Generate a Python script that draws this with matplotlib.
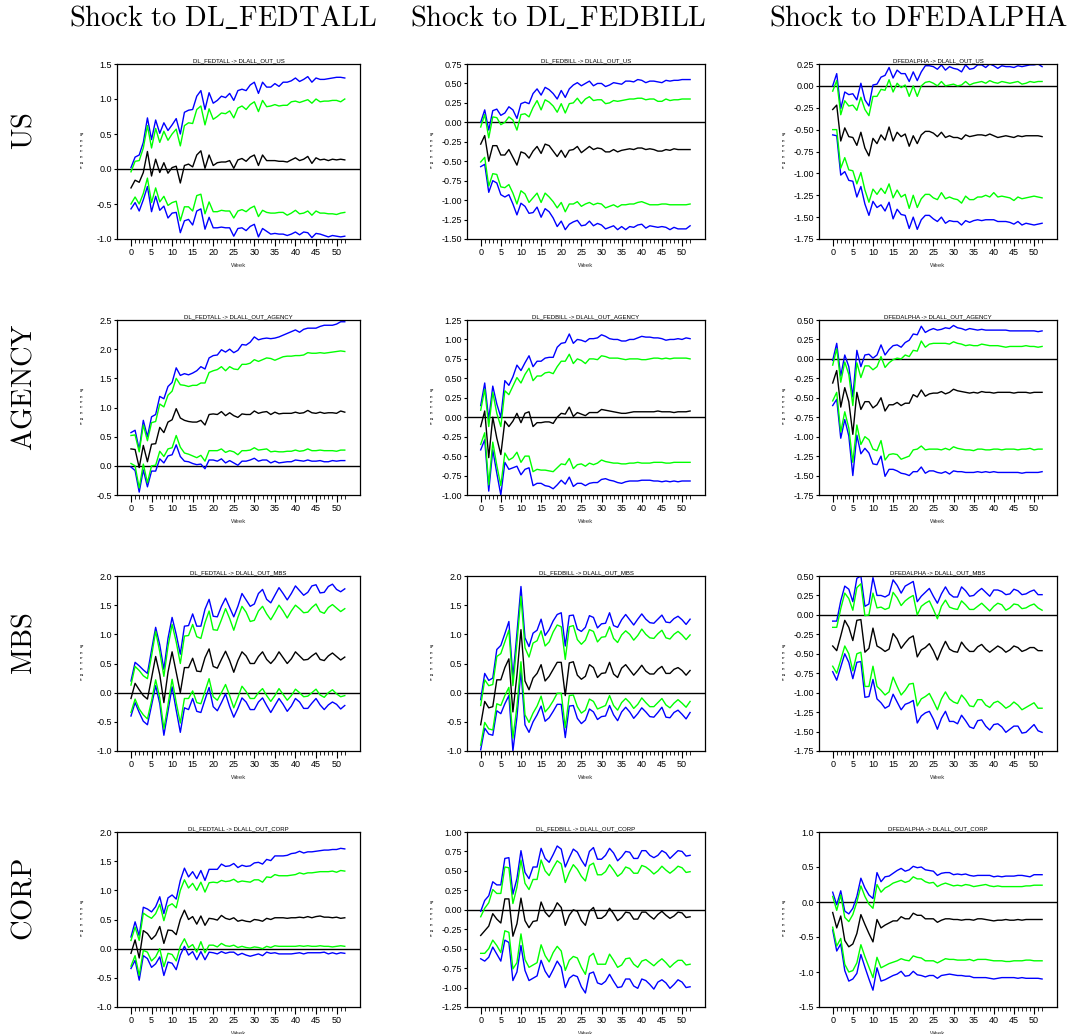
import matplotlib.pyplot as plt
from matplotlib.ticker import MultipleLocator, FixedLocator, FormatStrFormatter

plt.rcParams['mathtext.fontset'] = 'cm'
plt.rcParams['font.family'] = ['Liberation Sans', 'DejaVu Sans']

weeks = list(range(53))
major_weeks = list(range(0, 51, 5))
shocks = ['DL_FEDTALL', 'DL_FEDBILL', 'DFEDALPHA']
shock_heads = [r'$\mathrm{Shock\ to\ DL\_FEDTALL}$', r'$\mathrm{Shock\ to\ DL\_FEDBILL}$',
               r'$\mathrm{Shock\ to\ DFEDALPHA}$']
responses = ['US', 'AGENCY', 'MBS', 'CORP']

# ---- US ----
us_tall_mid = [-0.27,-0.16,-0.19,-0.05,0.25,-0.10,0.14,-0.05,0.09,-0.06,0.02,0.04,-0.20,0.05,0.07,0.03,0.20,0.26,0.01,0.20,0.05,0.09,0.10,0.10,0.12,0.01,0.13,0.15,0.11,0.17,0.20,0.05,0.20,0.12,0.12,0.12,0.11,0.11,0.10,0.13,0.16,0.12,0.14,0.18,0.08,0.16,0.13,0.14,0.12,0.14,0.13,0.14,0.13]
us_tall_g_hi = [-0.04,0.11,0.12,0.30,0.62,0.30,0.58,0.38,0.54,0.41,0.50,0.57,0.33,0.62,0.66,0.65,0.85,0.90,0.63,0.86,0.71,0.75,0.80,0.79,0.83,0.73,0.87,0.90,0.85,0.92,0.96,0.82,0.98,0.89,0.90,0.92,0.90,0.91,0.91,0.96,0.97,0.95,0.97,0.99,0.94,1.00,0.96,0.97,0.97,0.98,0.98,0.96,1.00]
us_tall_b_hi = [0.02,0.17,0.20,0.38,0.73,0.42,0.70,0.51,0.66,0.55,0.63,0.72,0.50,0.81,0.84,0.85,1.04,1.12,0.85,1.09,0.94,0.98,1.04,1.02,1.08,0.98,1.12,1.14,1.12,1.20,1.24,1.08,1.24,1.17,1.17,1.22,1.18,1.24,1.24,1.26,1.30,1.25,1.28,1.32,1.24,1.30,1.28,1.28,1.29,1.30,1.31,1.31,1.30]
us_tall_g_lo = [-0.50,-0.40,-0.50,-0.35,-0.13,-0.48,-0.27,-0.47,-0.39,-0.52,-0.48,-0.46,-0.74,-0.54,-0.54,-0.60,-0.38,-0.36,-0.64,-0.47,-0.61,-0.61,-0.59,-0.60,-0.60,-0.70,-0.60,-0.58,-0.61,-0.56,-0.53,-0.68,-0.59,-0.62,-0.63,-0.63,-0.62,-0.62,-0.66,-0.63,-0.59,-0.64,-0.63,-0.60,-0.66,-0.60,-0.63,-0.63,-0.64,-0.64,-0.65,-0.63,-0.62]
us_tall_b_lo = [-0.57,-0.48,-0.60,-0.44,-0.25,-0.61,-0.39,-0.59,-0.53,-0.70,-0.63,-0.62,-0.91,-0.74,-0.72,-0.80,-0.60,-0.57,-0.86,-0.69,-0.84,-0.84,-0.83,-0.84,-0.84,-0.96,-0.85,-0.84,-0.88,-0.82,-0.79,-0.97,-0.85,-0.89,-0.93,-0.92,-0.93,-0.93,-0.95,-0.93,-0.90,-0.94,-0.90,-0.91,-0.98,-0.92,-0.93,-0.95,-0.97,-0.95,-0.96,-0.97,-0.96]

us_bill_mid = [-0.28,-0.17,-0.50,-0.30,-0.30,-0.42,-0.42,-0.35,-0.45,-0.55,-0.38,-0.40,-0.46,-0.37,-0.31,-0.40,-0.28,-0.30,-0.37,-0.44,-0.36,-0.45,-0.36,-0.35,-0.31,-0.39,-0.35,-0.31,-0.35,-0.33,-0.34,-0.38,-0.38,-0.35,-0.38,-0.36,-0.35,-0.34,-0.35,-0.33,-0.33,-0.35,-0.34,-0.35,-0.37,-0.37,-0.35,-0.36,-0.34,-0.35,-0.35,-0.35,-0.35]
us_bill_g_hi = [-0.06,0.10,-0.20,0.07,0.06,-0.03,0.00,0.07,0.03,-0.10,0.10,0.11,0.07,0.19,0.28,0.16,0.29,0.26,0.21,0.13,0.24,0.12,0.24,0.25,0.31,0.24,0.30,0.33,0.28,0.29,0.29,0.24,0.25,0.28,0.27,0.28,0.29,0.30,0.30,0.31,0.31,0.29,0.30,0.30,0.27,0.27,0.30,0.28,0.29,0.29,0.30,0.30,0.30]
us_bill_b_hi = [0.00,0.16,-0.10,0.15,0.17,0.09,0.12,0.20,0.16,0.05,0.24,0.26,0.24,0.37,0.43,0.35,0.45,0.42,0.37,0.30,0.41,0.32,0.43,0.48,0.51,0.47,0.50,0.53,0.47,0.50,0.50,0.46,0.48,0.51,0.50,0.49,0.53,0.53,0.52,0.55,0.54,0.51,0.53,0.53,0.52,0.51,0.54,0.53,0.54,0.54,0.55,0.55,0.55]
us_bill_g_lo = [-0.51,-0.45,-0.82,-0.66,-0.67,-0.83,-0.84,-0.80,-0.91,-1.05,-0.88,-0.92,-1.03,-0.97,-0.91,-1.03,-0.91,-0.96,-1.02,-1.10,-1.03,-1.15,-1.05,-1.05,-1.02,-1.08,-1.05,-1.03,-1.06,-1.04,-1.05,-1.10,-1.08,-1.06,-1.09,-1.06,-1.06,-1.05,-1.05,-1.03,-1.02,-1.04,-1.06,-1.06,-1.06,-1.05,-1.05,-1.06,-1.06,-1.06,-1.06,-1.06,-1.05]
us_bill_b_lo = [-0.57,-0.54,-0.90,-0.75,-0.78,-0.93,-0.96,-0.93,-1.05,-1.19,-1.04,-1.08,-1.17,-1.16,-1.09,-1.22,-1.11,-1.15,-1.23,-1.34,-1.27,-1.38,-1.31,-1.28,-1.26,-1.33,-1.32,-1.27,-1.33,-1.30,-1.32,-1.37,-1.35,-1.33,-1.38,-1.34,-1.38,-1.34,-1.35,-1.32,-1.31,-1.36,-1.33,-1.34,-1.35,-1.34,-1.35,-1.38,-1.35,-1.37,-1.37,-1.37,-1.33]

us_alpha_mid = [-0.27,-0.22,-0.63,-0.48,-0.58,-0.59,-0.68,-0.53,-0.71,-0.80,-0.60,-0.66,-0.56,-0.62,-0.47,-0.63,-0.53,-0.58,-0.55,-0.69,-0.57,-0.66,-0.56,-0.52,-0.52,-0.54,-0.58,-0.53,-0.59,-0.57,-0.59,-0.59,-0.61,-0.56,-0.58,-0.57,-0.56,-0.56,-0.57,-0.55,-0.57,-0.59,-0.58,-0.57,-0.58,-0.59,-0.57,-0.58,-0.57,-0.57,-0.57,-0.57,-0.58]
us_alpha_g_hi = [-0.06,0.06,-0.33,-0.17,-0.23,-0.22,-0.28,-0.13,-0.27,-0.34,-0.12,-0.12,-0.04,-0.05,0.07,-0.07,0.03,-0.02,0.01,-0.12,0.00,-0.12,0.00,0.04,0.05,0.03,0.00,0.05,0.00,0.01,0.02,0.00,0.01,0.05,0.01,0.03,0.04,0.05,0.03,0.06,0.04,0.03,0.05,0.04,0.03,0.04,0.05,0.02,0.03,0.05,0.04,0.05,0.05]
us_alpha_b_hi = [0.00,0.14,-0.26,-0.07,-0.10,-0.09,-0.16,0.03,-0.16,-0.23,0.01,0.02,0.10,0.12,0.21,0.09,0.18,0.14,0.14,0.05,0.16,0.06,0.16,0.23,0.23,0.22,0.19,0.24,0.18,0.22,0.20,0.19,0.16,0.24,0.19,0.20,0.24,0.24,0.21,0.25,0.23,0.20,0.23,0.22,0.22,0.21,0.23,0.22,0.23,0.24,0.24,0.25,0.22]
us_alpha_g_lo = [-0.50,-0.50,-0.94,-0.82,-0.96,-0.97,-1.12,-0.99,-1.19,-1.33,-1.18,-1.24,-1.17,-1.23,-1.12,-1.28,-1.19,-1.27,-1.24,-1.40,-1.25,-1.39,-1.29,-1.24,-1.24,-1.28,-1.30,-1.22,-1.29,-1.27,-1.29,-1.30,-1.34,-1.26,-1.30,-1.30,-1.27,-1.27,-1.25,-1.27,-1.22,-1.27,-1.26,-1.27,-1.28,-1.31,-1.27,-1.29,-1.28,-1.27,-1.26,-1.27,-1.28]
us_alpha_b_lo = [-0.56,-0.57,-1.02,-0.98,-1.08,-1.09,-1.27,-1.15,-1.35,-1.48,-1.32,-1.39,-1.36,-1.43,-1.33,-1.52,-1.41,-1.47,-1.48,-1.63,-1.50,-1.64,-1.53,-1.48,-1.48,-1.52,-1.55,-1.50,-1.57,-1.54,-1.55,-1.55,-1.59,-1.54,-1.56,-1.54,-1.53,-1.54,-1.53,-1.53,-1.53,-1.55,-1.55,-1.55,-1.56,-1.58,-1.55,-1.59,-1.57,-1.58,-1.59,-1.58,-1.57]

# ---- AGENCY ----
ag_tall_mid = [0.29,0.28,-0.03,0.35,0.07,0.37,0.38,0.66,0.57,0.75,0.79,0.98,0.82,0.78,0.76,0.75,0.75,0.78,0.70,0.88,0.89,0.88,0.93,0.86,0.91,0.86,0.83,0.89,0.88,0.88,0.94,0.90,0.92,0.93,0.88,0.92,0.89,0.90,0.90,0.90,0.92,0.90,0.91,0.95,0.91,0.90,0.92,0.90,0.91,0.91,0.90,0.94,0.92]
ag_tall_g_hi = [0.52,0.53,0.24,0.70,0.43,0.74,0.76,1.06,1.01,1.21,1.28,1.50,1.39,1.38,1.36,1.38,1.38,1.42,1.42,1.60,1.63,1.65,1.70,1.63,1.70,1.66,1.65,1.74,1.74,1.76,1.82,1.79,1.82,1.85,1.84,1.81,1.84,1.87,1.88,1.88,1.89,1.89,1.90,1.94,1.93,1.93,1.94,1.93,1.94,1.95,1.96,1.97,1.96]
ag_tall_b_hi = [0.57,0.61,0.28,0.78,0.50,0.84,0.88,1.19,1.15,1.36,1.43,1.68,1.55,1.58,1.56,1.59,1.63,1.70,1.66,1.85,1.89,1.90,1.99,1.95,2.00,1.94,1.98,2.08,2.07,2.12,2.21,2.16,2.18,2.19,2.18,2.19,2.21,2.24,2.27,2.30,2.33,2.29,2.34,2.36,2.36,2.36,2.39,2.41,2.41,2.41,2.43,2.47,2.47]
ag_tall_g_lo = [0.04,0.00,-0.38,0.03,-0.29,0.00,0.01,0.25,0.16,0.29,0.31,0.52,0.32,0.22,0.20,0.17,0.14,0.18,0.08,0.26,0.26,0.26,0.29,0.23,0.26,0.24,0.19,0.26,0.26,0.27,0.31,0.27,0.28,0.29,0.24,0.25,0.24,0.24,0.25,0.25,0.27,0.25,0.26,0.29,0.26,0.26,0.27,0.26,0.26,0.26,0.25,0.27,0.27]
ag_tall_b_lo = [-0.02,-0.08,-0.45,-0.07,-0.36,-0.09,-0.09,0.12,0.05,0.17,0.19,0.36,0.16,0.08,0.07,0.04,0.02,0.03,-0.05,0.10,0.10,0.08,0.12,0.05,0.09,0.05,0.01,0.08,0.08,0.10,0.13,0.08,0.10,0.10,0.05,0.08,0.05,0.06,0.07,0.07,0.10,0.09,0.08,0.10,0.08,0.08,0.09,0.07,0.07,0.09,0.08,0.09,0.09]

ag_bill_mid = [-0.12,0.08,-0.52,0.00,-0.27,-0.48,-0.05,-0.12,-0.05,0.05,-0.07,0.05,0.07,-0.12,-0.07,-0.07,-0.06,-0.06,-0.08,0.00,0.05,0.04,0.13,0.01,0.06,0.04,0.02,0.06,0.06,0.06,0.10,0.09,0.08,0.07,0.06,0.05,0.05,0.06,0.07,0.07,0.07,0.07,0.07,0.07,0.08,0.07,0.07,0.07,0.06,0.07,0.07,0.07,0.08]
ag_bill_g_hi = [0.09,0.36,-0.12,0.32,0.05,-0.12,0.34,0.29,0.40,0.51,0.44,0.55,0.63,0.47,0.53,0.53,0.57,0.58,0.56,0.65,0.72,0.72,0.81,0.69,0.75,0.73,0.69,0.75,0.75,0.74,0.79,0.78,0.76,0.76,0.76,0.75,0.74,0.75,0.75,0.75,0.74,0.74,0.75,0.76,0.76,0.75,0.76,0.75,0.76,0.76,0.76,0.76,0.75]
ag_bill_b_hi = [0.15,0.44,-0.03,0.40,0.17,0.00,0.47,0.41,0.52,0.67,0.60,0.70,0.79,0.65,0.72,0.72,0.76,0.77,0.77,0.90,0.95,0.96,1.07,0.95,1.00,0.99,0.97,1.01,1.01,1.02,1.06,1.04,1.01,1.00,1.00,0.98,0.98,1.00,1.00,1.02,1.04,1.03,1.03,1.02,1.02,1.01,0.99,1.00,1.00,1.01,1.00,1.02,1.01]
ag_bill_g_lo = [-0.35,-0.20,-0.87,-0.32,-0.62,-0.88,-0.46,-0.55,-0.52,-0.45,-0.58,-0.50,-0.50,-0.70,-0.67,-0.68,-0.68,-0.69,-0.70,-0.65,-0.60,-0.61,-0.53,-0.66,-0.61,-0.60,-0.63,-0.59,-0.61,-0.59,-0.55,-0.57,-0.58,-0.59,-0.59,-0.60,-0.60,-0.59,-0.59,-0.58,-0.59,-0.59,-0.59,-0.58,-0.58,-0.58,-0.59,-0.59,-0.58,-0.58,-0.58,-0.58,-0.58]
ag_bill_b_lo = [-0.42,-0.29,-0.95,-0.42,-0.72,-1.00,-0.58,-0.67,-0.65,-0.63,-0.74,-0.67,-0.65,-0.88,-0.85,-0.85,-0.88,-0.89,-0.92,-0.87,-0.81,-0.86,-0.77,-0.89,-0.85,-0.85,-0.88,-0.85,-0.84,-0.84,-0.80,-0.79,-0.81,-0.82,-0.84,-0.85,-0.83,-0.82,-0.82,-0.82,-0.81,-0.81,-0.81,-0.82,-0.82,-0.83,-0.82,-0.83,-0.82,-0.83,-0.82,-0.82,-0.82]

ag_alpha_mid = [-0.31,-0.15,-0.62,-0.37,-0.55,-0.97,-0.43,-0.65,-0.55,-0.55,-0.63,-0.59,-0.50,-0.67,-0.59,-0.59,-0.56,-0.60,-0.57,-0.57,-0.46,-0.49,-0.40,-0.48,-0.45,-0.44,-0.44,-0.42,-0.45,-0.43,-0.39,-0.41,-0.42,-0.43,-0.44,-0.43,-0.44,-0.42,-0.43,-0.43,-0.44,-0.43,-0.43,-0.43,-0.43,-0.44,-0.43,-0.43,-0.43,-0.44,-0.43,-0.43,-0.43]
ag_alpha_g_hi = [-0.08,0.13,-0.30,-0.04,-0.20,-0.60,-0.05,-0.24,-0.09,-0.09,-0.14,-0.10,0.03,-0.11,-0.05,-0.01,0.01,0.00,0.05,0.03,0.11,0.10,0.23,0.15,0.19,0.20,0.20,0.20,0.20,0.19,0.22,0.20,0.19,0.17,0.18,0.17,0.17,0.19,0.18,0.17,0.17,0.17,0.16,0.15,0.16,0.16,0.16,0.16,0.17,0.16,0.16,0.15,0.16]
ag_alpha_b_hi = [-0.02,0.20,-0.22,0.05,-0.10,-0.49,0.11,-0.10,0.05,0.06,0.01,0.05,0.18,0.05,0.12,0.17,0.18,0.15,0.21,0.24,0.32,0.31,0.42,0.34,0.37,0.39,0.37,0.38,0.40,0.39,0.43,0.40,0.39,0.37,0.39,0.38,0.37,0.38,0.37,0.37,0.37,0.37,0.37,0.37,0.36,0.36,0.36,0.36,0.36,0.36,0.36,0.35,0.36]
ag_alpha_g_lo = [-0.54,-0.43,-0.94,-0.68,-0.89,-1.33,-0.85,-1.10,-1.00,-1.04,-1.16,-1.18,-1.05,-1.30,-1.23,-1.22,-1.23,-1.29,-1.27,-1.25,-1.17,-1.16,-1.12,-1.17,-1.16,-1.16,-1.16,-1.17,-1.15,-1.17,-1.13,-1.15,-1.16,-1.17,-1.17,-1.18,-1.16,-1.16,-1.17,-1.17,-1.16,-1.16,-1.17,-1.16,-1.16,-1.16,-1.17,-1.16,-1.16,-1.15,-1.17,-1.16,-1.16]
ag_alpha_b_lo = [-0.60,-0.52,-1.02,-0.78,-0.99,-1.50,-0.98,-1.22,-1.15,-1.21,-1.35,-1.36,-1.25,-1.51,-1.42,-1.42,-1.44,-1.47,-1.48,-1.50,-1.45,-1.45,-1.39,-1.47,-1.44,-1.44,-1.46,-1.47,-1.45,-1.48,-1.44,-1.45,-1.45,-1.46,-1.46,-1.46,-1.45,-1.46,-1.45,-1.46,-1.45,-1.46,-1.46,-1.46,-1.46,-1.46,-1.46,-1.47,-1.46,-1.46,-1.46,-1.46,-1.45]

# ---- MBS ----
mbs_tall_mid = [-0.10,0.16,0.05,-0.05,-0.11,0.25,0.62,0.31,-0.17,0.35,0.70,0.35,0.00,0.43,0.43,0.59,0.37,0.36,0.60,0.75,0.45,0.42,0.57,0.71,0.55,0.35,0.55,0.70,0.63,0.50,0.50,0.62,0.70,0.57,0.50,0.58,0.70,0.60,0.50,0.58,0.70,0.63,0.56,0.57,0.63,0.68,0.57,0.55,0.63,0.68,0.62,0.56,0.61]
mbs_tall_g_hi = [0.13,0.45,0.38,0.29,0.24,0.63,1.05,0.70,0.28,0.79,1.17,0.87,0.50,0.97,0.98,1.17,0.96,0.93,1.20,1.40,1.08,1.07,1.25,1.44,1.27,1.07,1.29,1.48,1.38,1.22,1.24,1.40,1.48,1.35,1.25,1.37,1.50,1.40,1.28,1.40,1.50,1.44,1.37,1.38,1.46,1.52,1.39,1.36,1.46,1.51,1.45,1.39,1.44]
mbs_tall_b_hi = [0.20,0.52,0.46,0.39,0.33,0.73,1.12,0.82,0.40,0.93,1.29,1.00,0.66,1.14,1.15,1.35,1.14,1.14,1.43,1.60,1.31,1.30,1.48,1.62,1.46,1.30,1.48,1.70,1.59,1.48,1.52,1.70,1.77,1.60,1.54,1.67,1.80,1.70,1.59,1.70,1.83,1.75,1.67,1.72,1.83,1.85,1.71,1.72,1.82,1.86,1.77,1.73,1.78]
mbs_tall_g_lo = [-0.34,-0.11,-0.28,-0.38,-0.45,-0.14,0.22,-0.09,-0.62,-0.21,0.23,-0.17,-0.52,-0.10,-0.10,0.03,-0.17,-0.19,0.02,0.24,-0.07,-0.13,0.00,0.14,-0.05,-0.26,-0.08,0.11,0.02,-0.10,-0.10,0.00,0.07,-0.05,-0.15,-0.05,0.07,-0.03,-0.13,-0.05,0.06,0.00,-0.07,-0.06,0.00,0.06,-0.04,-0.08,0.00,0.05,-0.02,-0.07,-0.05]
mbs_tall_b_lo = [-0.40,-0.17,-0.34,-0.49,-0.55,-0.22,0.12,-0.19,-0.73,-0.32,0.10,-0.30,-0.68,-0.26,-0.29,-0.10,-0.32,-0.34,-0.12,0.09,-0.24,-0.31,-0.17,-0.02,-0.24,-0.42,-0.27,-0.09,-0.16,-0.29,-0.29,-0.16,-0.09,-0.22,-0.34,-0.22,-0.10,-0.20,-0.32,-0.23,-0.10,-0.16,-0.27,-0.27,-0.18,-0.10,-0.21,-0.29,-0.21,-0.16,-0.20,-0.28,-0.22]

mbs_bill_mid = [-0.55,-0.15,-0.26,-0.24,0.22,0.22,0.43,0.58,-0.33,0.30,1.08,0.20,0.05,0.25,0.33,0.48,0.20,0.28,0.40,0.52,0.52,-0.05,0.51,0.53,0.30,0.23,0.28,0.48,0.43,0.26,0.33,0.34,0.52,0.32,0.26,0.42,0.48,0.39,0.30,0.38,0.47,0.37,0.32,0.32,0.40,0.45,0.33,0.33,0.40,0.43,0.38,0.30,0.38]
mbs_bill_g_hi = [-0.22,0.22,0.12,0.14,0.62,0.67,0.87,1.07,0.12,0.85,1.65,0.77,0.61,0.85,0.89,1.06,0.80,0.87,1.04,1.16,1.13,0.57,1.13,1.15,0.91,0.83,0.90,1.08,1.05,0.87,0.95,0.96,1.13,0.93,0.86,0.99,1.06,1.00,0.90,0.98,1.09,1.00,0.94,0.93,1.01,1.07,0.94,0.92,1.00,1.05,0.99,0.91,0.99]
mbs_bill_b_hi = [-0.12,0.33,0.21,0.25,0.74,0.81,1.01,1.22,0.26,1.02,1.82,0.94,0.79,1.02,1.07,1.26,0.98,1.08,1.23,1.34,1.37,0.80,1.32,1.33,1.09,1.05,1.12,1.32,1.29,1.11,1.18,1.19,1.37,1.15,1.12,1.25,1.34,1.25,1.16,1.26,1.35,1.26,1.20,1.19,1.26,1.33,1.21,1.20,1.27,1.31,1.25,1.17,1.26]
mbs_bill_g_lo = [-0.90,-0.51,-0.62,-0.64,-0.19,-0.22,-0.05,0.09,-0.78,-0.24,0.53,-0.38,-0.51,-0.35,-0.23,-0.06,-0.33,-0.25,-0.14,-0.01,-0.01,-0.60,-0.05,-0.04,-0.24,-0.35,-0.30,-0.11,-0.15,-0.28,-0.25,-0.22,-0.05,-0.22,-0.30,-0.17,-0.10,-0.17,-0.27,-0.20,-0.09,-0.17,-0.24,-0.24,-0.17,-0.10,-0.21,-0.26,-0.18,-0.12,-0.18,-0.25,-0.15]
mbs_bill_b_lo = [-0.98,-0.61,-0.71,-0.73,-0.31,-0.36,-0.19,-0.05,-1.00,-0.42,0.38,-0.55,-0.68,-0.50,-0.38,-0.23,-0.49,-0.43,-0.32,-0.20,-0.20,-0.77,-0.23,-0.22,-0.44,-0.53,-0.47,-0.28,-0.33,-0.46,-0.41,-0.40,-0.22,-0.38,-0.48,-0.33,-0.25,-0.33,-0.44,-0.36,-0.26,-0.33,-0.41,-0.42,-0.34,-0.25,-0.42,-0.43,-0.34,-0.30,-0.37,-0.45,-0.34]

mbs_alpha_mid = [-0.40,-0.46,-0.27,-0.07,-0.16,-0.33,-0.07,-0.06,-0.48,-0.43,-0.17,-0.40,-0.43,-0.47,-0.44,-0.24,-0.31,-0.43,-0.36,-0.30,-0.27,-0.54,-0.45,-0.42,-0.37,-0.46,-0.58,-0.45,-0.34,-0.44,-0.47,-0.48,-0.35,-0.42,-0.47,-0.47,-0.41,-0.38,-0.44,-0.48,-0.44,-0.40,-0.43,-0.48,-0.45,-0.40,-0.42,-0.47,-0.45,-0.42,-0.42,-0.46,-0.46]
mbs_alpha_g_hi = [-0.16,-0.16,0.08,0.28,0.21,0.06,0.35,0.40,-0.01,0.00,0.28,0.09,0.10,0.07,0.09,0.29,0.22,0.12,0.18,0.22,0.25,0.00,0.11,0.15,0.18,0.07,-0.05,0.11,0.19,0.10,0.08,0.07,0.18,0.13,0.07,0.07,0.11,0.15,0.10,0.05,0.11,0.15,0.13,0.06,0.09,0.14,0.13,0.08,0.09,0.12,0.14,0.09,0.06]
mbs_alpha_b_hi = [-0.08,-0.08,0.18,0.37,0.33,0.17,0.47,0.50,0.11,0.14,0.48,0.25,0.25,0.23,0.26,0.45,0.38,0.28,0.37,0.40,0.43,0.17,0.24,0.29,0.34,0.24,0.15,0.27,0.36,0.27,0.23,0.23,0.36,0.31,0.24,0.25,0.30,0.34,0.29,0.24,0.32,0.32,0.30,0.26,0.27,0.33,0.31,0.26,0.27,0.30,0.32,0.26,0.26]
mbs_alpha_g_lo = [-0.66,-0.75,-0.58,-0.40,-0.50,-0.72,-0.50,-0.48,-0.92,-0.92,-0.66,-0.92,-0.97,-1.03,-0.99,-0.80,-0.92,-1.03,-0.97,-0.89,-0.88,-1.17,-1.08,-1.05,-1.01,-1.11,-1.22,-1.08,-0.99,-1.08,-1.12,-1.14,-1.03,-1.09,-1.17,-1.18,-1.09,-1.09,-1.16,-1.19,-1.13,-1.11,-1.15,-1.20,-1.17,-1.12,-1.16,-1.22,-1.19,-1.16,-1.13,-1.20,-1.20]
mbs_alpha_b_lo = [-0.73,-0.84,-0.67,-0.50,-0.61,-0.82,-0.61,-0.60,-1.06,-1.05,-0.83,-1.08,-1.13,-1.20,-1.17,-1.02,-1.12,-1.22,-1.15,-1.13,-1.10,-1.39,-1.30,-1.26,-1.24,-1.34,-1.47,-1.33,-1.24,-1.37,-1.37,-1.40,-1.29,-1.36,-1.44,-1.46,-1.36,-1.35,-1.43,-1.48,-1.41,-1.40,-1.44,-1.51,-1.47,-1.43,-1.43,-1.52,-1.51,-1.46,-1.41,-1.49,-1.51]

# ---- CORP ----
corp_tall_mid = [-0.08,0.15,-0.16,0.31,0.26,0.16,0.23,0.38,0.09,0.32,0.31,0.24,0.50,0.66,0.50,0.55,0.42,0.56,0.40,0.52,0.51,0.49,0.57,0.52,0.50,0.53,0.47,0.49,0.47,0.46,0.50,0.49,0.47,0.52,0.50,0.53,0.53,0.53,0.52,0.53,0.53,0.54,0.53,0.55,0.53,0.55,0.56,0.54,0.54,0.53,0.54,0.52,0.53]
corp_tall_g_hi = [0.14,0.37,0.14,0.61,0.56,0.52,0.60,0.76,0.48,0.73,0.77,0.70,1.00,1.18,1.04,1.12,1.00,1.14,0.97,1.13,1.14,1.13,1.17,1.15,1.16,1.19,1.14,1.16,1.15,1.14,1.18,1.18,1.14,1.23,1.22,1.27,1.25,1.25,1.25,1.26,1.27,1.30,1.28,1.30,1.30,1.31,1.32,1.32,1.32,1.33,1.31,1.34,1.33]
corp_tall_b_hi = [0.20,0.46,0.22,0.71,0.68,0.63,0.72,0.89,0.60,0.87,0.92,0.85,1.17,1.38,1.23,1.32,1.20,1.34,1.17,1.36,1.36,1.36,1.45,1.41,1.42,1.46,1.39,1.43,1.41,1.42,1.47,1.48,1.45,1.53,1.51,1.59,1.59,1.59,1.60,1.63,1.64,1.67,1.64,1.66,1.66,1.67,1.68,1.69,1.69,1.70,1.70,1.72,1.71]
corp_tall_g_lo = [-0.30,-0.12,-0.46,-0.03,-0.06,-0.21,-0.14,0.00,-0.31,-0.08,-0.10,-0.21,0.04,0.17,0.02,0.07,-0.06,0.12,-0.07,0.06,0.06,0.03,0.09,0.05,0.04,0.06,0.02,0.04,0.02,0.01,0.03,0.02,0.00,0.04,0.02,0.05,0.04,0.04,0.04,0.04,0.04,0.05,0.04,0.05,0.04,0.04,0.05,0.04,0.04,0.03,0.04,0.05,0.04]
corp_tall_b_lo = [-0.34,-0.20,-0.54,-0.12,-0.17,-0.32,-0.26,-0.14,-0.46,-0.23,-0.25,-0.36,-0.11,0.04,-0.11,-0.05,-0.19,-0.05,-0.19,-0.06,-0.07,-0.09,-0.05,-0.08,-0.06,-0.06,-0.11,-0.08,-0.11,-0.13,-0.11,-0.09,-0.12,-0.06,-0.08,-0.07,-0.09,-0.09,-0.09,-0.09,-0.08,-0.07,-0.09,-0.07,-0.07,-0.07,-0.07,-0.06,-0.09,-0.07,-0.09,-0.07,-0.08]

corp_bill_mid = [-0.33,-0.27,-0.21,-0.05,-0.12,-0.17,0.14,0.14,-0.34,-0.18,0.15,-0.14,-0.23,-0.15,-0.14,0.10,-0.03,-0.09,-0.02,0.09,0.03,-0.20,-0.07,0.00,-0.02,-0.14,-0.20,-0.02,0.03,-0.11,-0.11,-0.07,0.02,-0.05,-0.14,-0.10,-0.03,-0.04,-0.12,-0.12,-0.03,-0.03,-0.08,-0.12,-0.06,-0.02,-0.07,-0.11,-0.08,-0.03,-0.04,-0.10,-0.09]
corp_bill_g_hi = [-0.09,0.02,0.09,0.26,0.21,0.21,0.55,0.54,0.08,0.29,0.64,0.34,0.26,0.39,0.39,0.64,0.50,0.44,0.54,0.63,0.59,0.35,0.48,0.58,0.52,0.43,0.37,0.57,0.60,0.45,0.45,0.49,0.58,0.51,0.43,0.47,0.55,0.53,0.47,0.47,0.57,0.55,0.51,0.46,0.50,0.56,0.51,0.47,0.51,0.56,0.54,0.48,0.49]
corp_bill_b_hi = [-0.02,0.12,0.18,0.36,0.32,0.32,0.66,0.67,0.20,0.40,0.76,0.48,0.40,0.55,0.55,0.79,0.66,0.61,0.71,0.82,0.78,0.55,0.67,0.78,0.74,0.64,0.56,0.75,0.80,0.65,0.65,0.70,0.79,0.73,0.63,0.68,0.75,0.74,0.66,0.66,0.76,0.76,0.70,0.67,0.70,0.76,0.73,0.66,0.71,0.76,0.75,0.69,0.70]
corp_bill_g_lo = [-0.56,-0.56,-0.50,-0.39,-0.46,-0.55,-0.27,-0.29,-0.76,-0.68,-0.31,-0.64,-0.74,-0.71,-0.68,-0.45,-0.59,-0.67,-0.55,-0.47,-0.53,-0.78,-0.65,-0.60,-0.62,-0.74,-0.83,-0.60,-0.56,-0.70,-0.70,-0.70,-0.57,-0.65,-0.74,-0.71,-0.63,-0.62,-0.70,-0.74,-0.66,-0.64,-0.68,-0.72,-0.67,-0.63,-0.68,-0.74,-0.69,-0.65,-0.65,-0.71,-0.70]
corp_bill_b_lo = [-0.63,-0.66,-0.61,-0.48,-0.57,-0.66,-0.39,-0.42,-0.91,-0.80,-0.46,-0.78,-0.91,-0.88,-0.85,-0.65,-0.79,-0.87,-0.77,-0.66,-0.74,-1.00,-0.88,-0.84,-0.86,-0.99,-1.07,-0.82,-0.80,-0.94,-0.96,-0.92,-0.83,-0.92,-1.00,-0.99,-0.89,-0.89,-0.98,-1.01,-0.89,-0.91,-0.96,-1.02,-0.93,-0.90,-0.94,-1.01,-0.96,-0.90,-0.93,-1.00,-0.99]

corp_alpha_mid = [-0.15,-0.37,-0.20,-0.55,-0.64,-0.60,-0.45,-0.18,-0.32,-0.45,-0.57,-0.25,-0.37,-0.33,-0.30,-0.27,-0.27,-0.21,-0.24,-0.24,-0.16,-0.19,-0.19,-0.24,-0.24,-0.24,-0.29,-0.26,-0.24,-0.24,-0.25,-0.25,-0.26,-0.25,-0.25,-0.26,-0.24,-0.24,-0.25,-0.26,-0.27,-0.26,-0.26,-0.25,-0.26,-0.26,-0.25,-0.26,-0.25,-0.25,-0.25,-0.25,-0.25]
corp_alpha_g_hi = [0.08,-0.12,0.10,-0.22,-0.28,-0.18,0.00,0.23,0.08,-0.03,-0.09,0.25,0.14,0.20,0.23,0.27,0.29,0.31,0.28,0.30,0.36,0.33,0.33,0.29,0.27,0.28,0.22,0.25,0.27,0.25,0.23,0.24,0.23,0.25,0.24,0.22,0.23,0.24,0.25,0.23,0.22,0.23,0.22,0.22,0.22,0.22,0.22,0.22,0.23,0.23,0.24,0.24,0.24]
corp_alpha_b_hi = [0.14,-0.04,0.16,-0.13,-0.17,-0.09,0.08,0.34,0.20,0.10,0.05,0.42,0.29,0.36,0.37,0.41,0.45,0.48,0.44,0.46,0.51,0.49,0.50,0.46,0.45,0.44,0.38,0.41,0.42,0.42,0.39,0.40,0.39,0.40,0.38,0.37,0.38,0.38,0.38,0.38,0.36,0.37,0.36,0.37,0.37,0.37,0.38,0.38,0.37,0.36,0.39,0.39,0.39]
corp_alpha_g_lo = [-0.36,-0.63,-0.52,-0.89,-1.00,-0.98,-0.87,-0.61,-0.78,-0.93,-1.08,-0.79,-0.94,-0.91,-0.88,-0.86,-0.84,-0.81,-0.83,-0.84,-0.77,-0.79,-0.80,-0.84,-0.84,-0.84,-0.87,-0.84,-0.81,-0.82,-0.82,-0.83,-0.83,-0.83,-0.82,-0.84,-0.82,-0.82,-0.82,-0.83,-0.84,-0.84,-0.84,-0.85,-0.85,-0.84,-0.84,-0.84,-0.83,-0.83,-0.84,-0.84,-0.84]
corp_alpha_b_lo = [-0.40,-0.70,-0.60,-0.98,-1.13,-1.10,-1.02,-0.75,-0.93,-1.10,-1.26,-0.94,-1.13,-1.11,-1.08,-1.05,-1.03,-0.99,-1.06,-1.05,-0.99,-1.04,-1.05,-1.07,-1.05,-1.05,-1.09,-1.05,-1.04,-1.03,-1.04,-1.05,-1.05,-1.06,-1.06,-1.08,-1.08,-1.08,-1.08,-1.09,-1.10,-1.09,-1.08,-1.08,-1.08,-1.08,-1.09,-1.08,-1.09,-1.09,-1.09,-1.09,-1.10]

# y-axis ranges and tick step per panel (row, col)
y_ranges = [[(-1.0, 1.5, 0.5), (-1.5, 0.75, 0.25), (-1.75, 0.25, 0.25)],
            [(-0.5, 2.5, 0.5), (-1.0, 1.25, 0.25), (-1.75, 0.5, 0.25)],
            [(-1.0, 2.0, 0.5), (-1.0, 2.0, 0.5), (-1.75, 0.5, 0.25)],
            [(-1.0, 2.0, 0.5), (-1.25, 1.0, 0.25), (-1.5, 1.0, 0.5)]]

panels = [
    [(us_tall_mid, us_tall_g_hi, us_tall_g_lo, us_tall_b_hi, us_tall_b_lo),
     (us_bill_mid, us_bill_g_hi, us_bill_g_lo, us_bill_b_hi, us_bill_b_lo),
     (us_alpha_mid, us_alpha_g_hi, us_alpha_g_lo, us_alpha_b_hi, us_alpha_b_lo)],
    [(ag_tall_mid, ag_tall_g_hi, ag_tall_g_lo, ag_tall_b_hi, ag_tall_b_lo),
     (ag_bill_mid, ag_bill_g_hi, ag_bill_g_lo, ag_bill_b_hi, ag_bill_b_lo),
     (ag_alpha_mid, ag_alpha_g_hi, ag_alpha_g_lo, ag_alpha_b_hi, ag_alpha_b_lo)],
    [(mbs_tall_mid, mbs_tall_g_hi, mbs_tall_g_lo, mbs_tall_b_hi, mbs_tall_b_lo),
     (mbs_bill_mid, mbs_bill_g_hi, mbs_bill_g_lo, mbs_bill_b_hi, mbs_bill_b_lo),
     (mbs_alpha_mid, mbs_alpha_g_hi, mbs_alpha_g_lo, mbs_alpha_b_hi, mbs_alpha_b_lo)],
    [(corp_tall_mid, corp_tall_g_hi, corp_tall_g_lo, corp_tall_b_hi, corp_tall_b_lo),
     (corp_bill_mid, corp_bill_g_hi, corp_bill_g_lo, corp_bill_b_hi, corp_bill_b_lo),
     (corp_alpha_mid, corp_alpha_g_hi, corp_alpha_g_lo, corp_alpha_b_hi, corp_alpha_b_lo)],
]

W, H = 1078, 1034
fig = plt.figure(figsize=(W / 100, H / 100), dpi=100)

lefts = [117, 467, 819]
widths = [243, 238, 238]
tops = [64, 320, 576, 832]
ax_h = 175

for r in range(4):
    for c in range(3):
        ax = fig.add_axes([lefts[c] / W, 1 - (tops[r] + ax_h) / H, widths[c] / W, ax_h / H])
        mid, g_hi, g_lo, b_hi, b_lo = panels[r][c]
        ax.axhline(0, color='black', lw=1.0)
        ax.plot(weeks, b_hi, color='#0000ff', lw=1.0)
        ax.plot(weeks, b_lo, color='#0000ff', lw=1.0)
        ax.plot(weeks, g_hi, color='#00ff00', lw=1.0)
        ax.plot(weeks, g_lo, color='#00ff00', lw=1.0)
        ax.plot(weeks, mid, color='black', lw=1.0)

        lo, hi, step = y_ranges[r][c]
        ax.set_ylim(lo, hi)
        ax.set_xlim(-3.4, 55.7)
        ax.yaxis.set_major_locator(MultipleLocator(step))
        ax.yaxis.set_major_formatter(FormatStrFormatter('%.2f' if step == 0.25 else '%.1f'))
        ax.xaxis.set_major_locator(FixedLocator(major_weeks))
        ax.xaxis.set_minor_locator(FixedLocator(weeks))
        ax.tick_params(axis='x', which='major', length=5, width=0.8, labelsize=6.5, pad=1.5)
        ax.tick_params(axis='x', which='minor', length=3, width=0.6)
        ax.tick_params(axis='y', which='major', length=2, width=0.8, labelsize=6.5, pad=1.5)
        for s in ax.spines.values():
            s.set_linewidth(0.9)
        ax.set_title(f'{shocks[c]} -> DLALL_OUT_{responses[r]}', fontsize=4.3, pad=1.5)
        ax.text(0.5, -0.135, 'Week', transform=ax.transAxes, ha='center', va='top',
                fontsize=4.3, color='#333333')
        ax.text(-36 / widths[c], 0.5, '\n'.join('Percent'), transform=ax.transAxes,
                ha='center', va='center', fontsize=3.2, fontweight='bold',
                family='DejaVu Serif', linespacing=1.5, color='#222222')

for c, head in enumerate(shock_heads):
    fig.text([223, 558, 919][c] / W, 1 - 18 / H, head, ha='center', va='center', fontsize=20.5)

for r, resp in enumerate(responses):
    fig.text(24 / W, 1 - (tops[r] + ax_h / 2 - 20) / H, r'$\mathrm{' + resp + '}$',
             ha='center', va='center', rotation=90, fontsize=20.5)

fig.savefig('out.png', dpi=100)
